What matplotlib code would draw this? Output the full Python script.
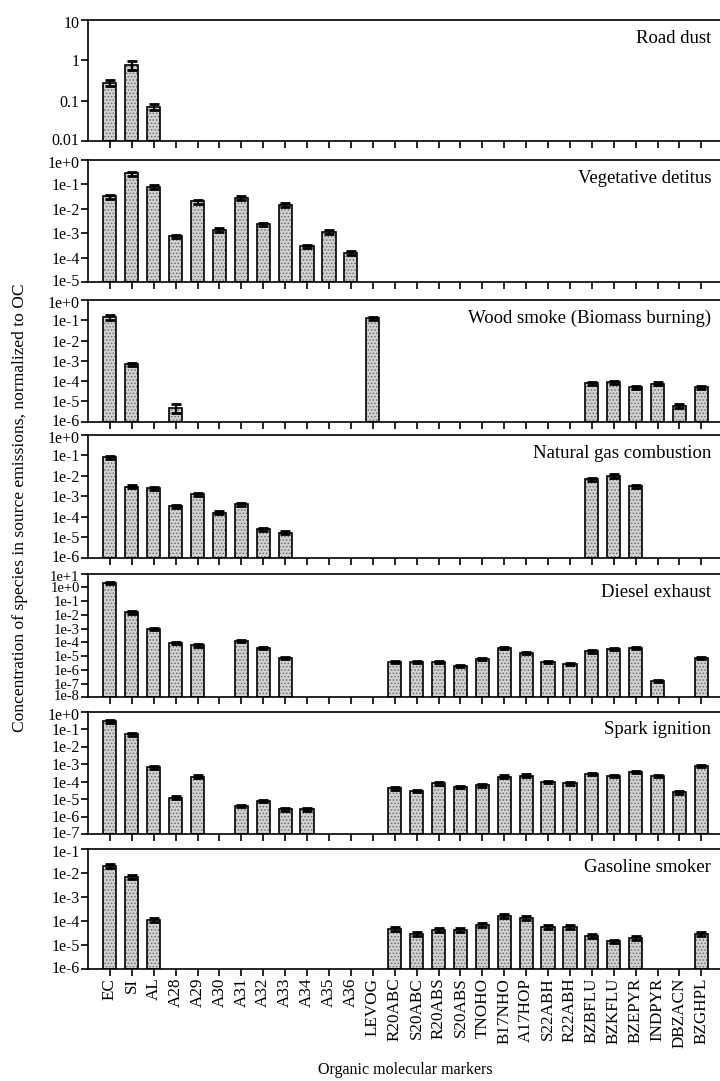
import numpy as np
import matplotlib
matplotlib.use('Agg')
import matplotlib.pyplot as plt
from matplotlib.transforms import ScaledTranslation

plt.rcParams['font.family'] = ['Liberation Serif', 'DejaVu Serif']
plt.rcParams['hatch.linewidth'] = 0.7

nan = np.nan

markers = ['EC', 'SI', 'AL', 'A28', 'A29', 'A30', 'A31', 'A32', 'A33', 'A34',
           'A35', 'A36', 'LEVOG', 'R20ABC', 'S20ABC', 'R20ABS', 'S20ABS',
           'TNOHO', 'B17NHO', 'A17HOP', 'S22ABH', 'R22ABH', 'BZBFLU',
           'BZKFLU', 'BZEPYR', 'INDPYR', 'DBZACN', 'BZGHPL']

# values (normalized to OC), nan = not shown
road_dust = [0.28, 0.75, 0.07] + [nan] * 25
vegetative = [0.032, 0.28, 0.08, 7.4e-4, 0.02, 1.4e-3, 0.028, 2.3e-3, 0.015,
              2.9e-4, 1.1e-3, 1.55e-4] + [nan] * 16
wood_smoke = [0.14, 7e-4, nan, 5e-6] + [nan] * 8 + [0.13] + [nan] * 9 + \
             [8e-5, 9e-5, 5e-5, 7.5e-5, 6e-6, 5e-5]
natural_gas = [0.08, 3e-3, 2.5e-3, 3.2e-4, 1.3e-3, 1.6e-4, 4e-4, 2.5e-5,
               1.7e-5] + [nan] * 13 + [7e-3, 1e-2, 3.2e-3] + [nan] * 3
diesel = [2.0, 0.015, 9e-4, 9e-5, 6e-5, nan, 1.3e-4, 3.7e-5, 7.6e-6,
          nan, nan, nan, nan,
          3.9e-6, 3.9e-6, 4e-6, 1.9e-6, 6.4e-6, 3.7e-5, 1.7e-5, 4e-6,
          2.6e-6, 2.2e-5, 3.3e-5, 3.7e-5, 1.6e-7, nan, 6.9e-6]
spark = [0.28, 0.051, 6.5e-4, 1.2e-5, 1.9e-4, nan, 4e-6, 7.7e-6, 2.6e-6,
         2.6e-6, nan, nan, nan,
         4.1e-5, 2.9e-5, 7.9e-5, 5e-5, 6e-5, 1.9e-4, 2.2e-4, 9.4e-5,
         7.9e-5, 2.7e-4, 2.1e-4, 3.6e-4, 2.1e-4, 2.4e-5, 7.9e-4]
gasoline = [0.021, 7e-3, 1.15e-4] + [nan] * 10 + \
           [4.9e-5, 3.1e-5, 4.5e-5, 4.5e-5, 7.3e-5, 1.7e-4, 1.4e-4, 6e-5,
            6e-5, 2.4e-5, 1.45e-5, 2e-5, nan, nan, 2.9e-5]

# relative error (fraction of value), larger ones where visible
err_default = 0.18
err_special = {('Road dust', 1): 0.25, ('Wood smoke (Biomass burning)', 3): 0.45,
               ('Wood smoke (Biomass burning)', 0): 0.3}

panels = [
    ('Road dust', road_dust, -2, 1, 'plain'),
    ('Vegetative detitus', vegetative, -5, 0, 'e'),
    ('Wood smoke (Biomass burning)', wood_smoke, -6, 0, 'e'),
    ('Natural gas combustion', natural_gas, -6, 0, 'e'),
    ('Diesel exhaust', diesel, -8, 1, 'e'),
    ('Spark ignition', spark, -7, 0, 'e'),
    ('Gasoline smoker', gasoline, -6, -1, 'e'),
]

# pixel boxes (top, bottom) of each panel
boxes = [(20, 141), (160, 282), (300, 421.7), (435, 557.7),
         (573.6, 697.3), (711.5, 834), (849.3, 969.3)]

W, H = 720, 1081
fig = plt.figure(figsize=(W / 100, H / 100), dpi=100)
x = np.arange(len(markers))

for (name, vals, lo, hi, fmt), (top, bot) in zip(panels, boxes):
    ax = fig.add_axes([88 / W, 1 - bot / H, (W - 88) / W, (bot - top) / H])
    vals = np.array(vals, dtype=float)
    ok = ~np.isnan(vals)
    base = 10.0 ** lo
    h = vals[ok] - base
    ax.bar(x[ok], h, bottom=base, width=0.6, color='#d2d2d2',
           edgecolor='#6e6e6e', hatch='.....', linewidth=0)
    ax.bar(x[ok], h, bottom=base, width=0.6, fill=False,
           edgecolor='black', linewidth=1.2)
    errs = np.array([err_special.get((name, i), err_default) for i in x[ok]])
    ax.errorbar(x[ok], vals[ok], yerr=vals[ok] * errs, fmt='none',
                ecolor='black', elinewidth=1.6, capsize=3.5, capthick=2)
    ax.set_yscale('log')
    ax.set_ylim(10.0 ** lo, 10.0 ** hi)
    ax.set_xlim(-1, 27.85)
    ticks = [10.0 ** k for k in range(lo, hi + 1)]
    ax.set_yticks(ticks)
    if fmt == 'plain':
        labs = ['0.01', '0.1', '1', '10']
    else:
        labs = ['1e%+d' % k for k in range(lo, hi + 1)]
    ax.set_yticklabels(labs)
    ax.yaxis.set_minor_locator(matplotlib.ticker.NullLocator())
    ax.set_xticks(x)
    ysize = 10.5 if hi - lo > 7 else 11.5
    ax.tick_params(axis='both', direction='out', length=5, width=1.2, pad=1)
    ax.tick_params(axis='y', labelsize=ysize)
    # nudge the end labels inward so neighbouring panels don't collide
    ylabs = ax.get_yticklabels()
    up = ScaledTranslation(0, 0.02, fig.dpi_scale_trans)
    down = ScaledTranslation(0, -0.02, fig.dpi_scale_trans)
    ylabs[0].set_transform(ylabs[0].get_transform() + up)
    ylabs[-1].set_transform(ylabs[-1].get_transform() + down)
    ax.spines['right'].set_visible(False)
    for s in ['top', 'left', 'bottom']:
        ax.spines[s].set_linewidth(1.2)
    ax.text(0.986, 0.85, name, transform=ax.transAxes, ha='right',
            va='center', fontsize=13.5)
    if name == 'Gasoline smoker':
        ax.set_xticklabels(markers, rotation=90, fontsize=12.3)
    else:
        ax.set_xticklabels([])

fig.text(405 / W, 1 - 1070 / H, 'Organic molecular markers', ha='center',
         va='center', fontsize=11.5)
fig.text(20 / W, 1 - 508 / H,
         'Concentration of species in source emissions, normalized to OC',
         rotation=90, ha='center', va='center', fontsize=12.6)

fig.savefig('out.png', dpi=100)
